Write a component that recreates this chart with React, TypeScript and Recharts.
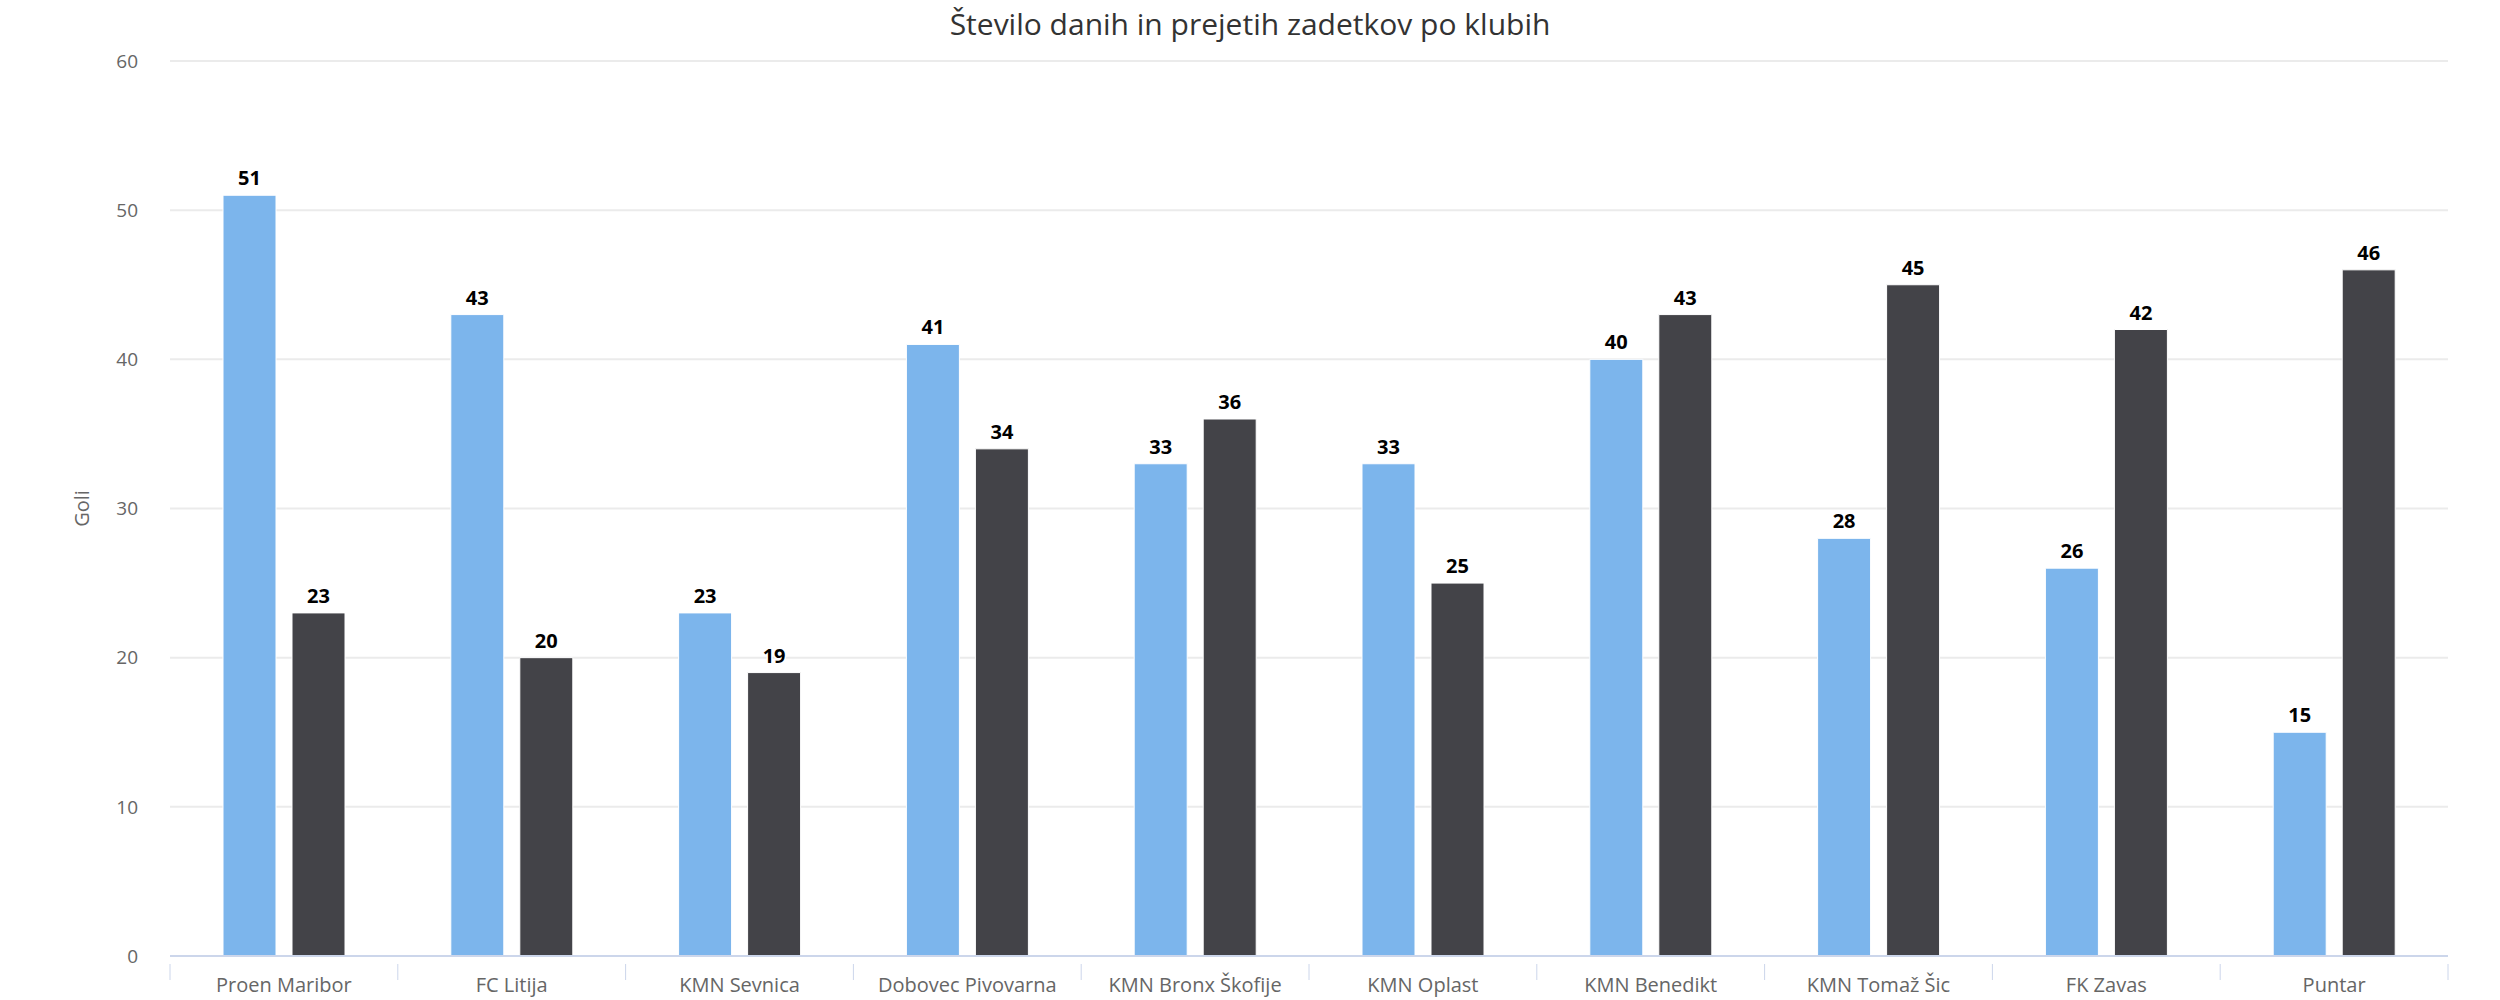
import React from 'react';
import {
  BarChart,
  Bar,
  XAxis,
  YAxis,
  CartesianGrid,
  LabelList,
} from 'recharts';

const clubs = [
  'Proen Maribor',
  'FC Litija',
  'KMN Sevnica',
  'Dobovec Pivovarna',
  'KMN Bronx Škofije',
  'KMN Oplast',
  'KMN Benedikt',
  'KMN Tomaž Šic',
  'FK Zavas',
  'Puntar',
];
const scored = [51, 43, 23, 41, 33, 33, 40, 28, 26, 15];
const conceded = [23, 20, 19, 34, 36, 25, 43, 45, 42, 46];
const yTicks = [0, 10, 20, 30, 40, 50, 60];

const data = clubs.map((club, i) => ({
  club,
  dani: scored[i],
  prejeti: conceded[i],
}));

const FONT = '"Open Sans", "Noto Sans", sans-serif';
const CHART_W = 2500;
const CHART_H = 1000;
const LEFT = 170;
const RIGHT = 52;
const BAND = (CHART_W - LEFT - RIGHT) / clubs.length;

function ClubTick(props: any) {
  const { x, y, payload, index } = props;
  const last = index === clubs.length - 1;
  return (
    <g>
      <line x1={x - BAND / 2} y1={y} x2={x - BAND / 2} y2={y + 16} stroke="#ccd6eb" />
      {last && <line x1={x + BAND / 2} y1={y} x2={x + BAND / 2} y2={y + 16} stroke="#ccd6eb" />}
      <text
        x={x}
        y={y + 28}
        textAnchor="middle"
        fill="#666666"
        fontSize={20}
        fontFamily={FONT}
      >
        {payload.value}
      </text>
    </g>
  );
}

const labelStyle = {
  fill: '#000000',
  fontSize: 20,
  fontWeight: 700,
  fontFamily: FONT,
  stroke: '#ffffff',
  strokeWidth: 3,
  paintOrder: 'stroke',
} as React.CSSProperties;

export default function App() {
  return (
    <div
      style={{
        position: 'absolute',
        left: 0,
        top: 0,
        width: CHART_W,
        height: CHART_H,
        background: '#ffffff',
        overflow: 'hidden',
      }}
    >
      <svg
        width={CHART_W}
        height={48}
        style={{ position: 'absolute', left: 0, top: 0, zIndex: 2 }}
      >
        <text
          x={1250}
          y={35}
          textAnchor="middle"
          fill="#333333"
          fontSize={30}
          fontFamily={FONT}
        >
          Število danih in prejetih zadetkov po klubih
        </text>
      </svg>
      <BarChart
        width={CHART_W}
        height={CHART_H}
        data={data}
        margin={{ top: 61, right: RIGHT, bottom: 0, left: 0 }}
        barSize={53}
        barGap={16}
      >
        <CartesianGrid vertical={false} stroke="#ebebeb" strokeWidth={2} />
        <XAxis
          dataKey="club"
          height={44}
          axisLine={{ stroke: '#ccd6eb', strokeWidth: 2 }}
          tickLine={false}
          tick={<ClubTick />}
          interval={0}
        />
        <YAxis
          width={LEFT}
          domain={[0, 60]}
          ticks={yTicks}
          axisLine={false}
          tickLine={false}
          tickMargin={26}
          tick={{ fill: '#666666', fontSize: 19, fontFamily: FONT }}
          label={{
            value: 'Goli',
            angle: -90,
            position: 'center',
            dx: -3,
            fill: '#666666',
            fontSize: 20,
            fontFamily: FONT,
          }}
        />
        <Bar dataKey="dani" fill="#7cb5ec" stroke="#ffffff" strokeWidth={1} isAnimationActive={false}>
          <LabelList dataKey="dani" position="top" offset={10} style={labelStyle} />
        </Bar>
        <Bar dataKey="prejeti" fill="#434348" stroke="#ffffff" strokeWidth={1} isAnimationActive={false}>
          <LabelList dataKey="prejeti" position="top" offset={10} style={labelStyle} />
        </Bar>
      </BarChart>
    </div>
  );
}
